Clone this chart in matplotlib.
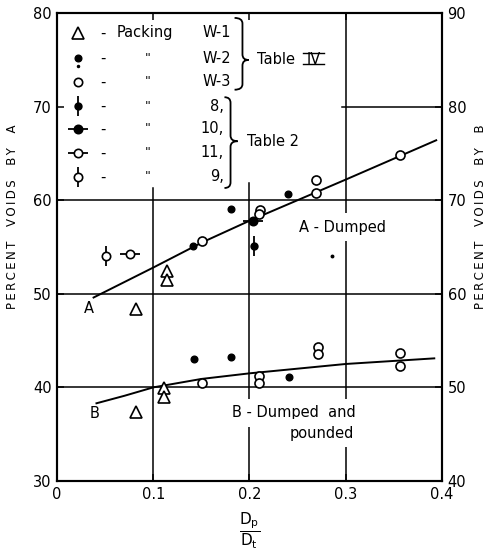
import matplotlib.pyplot as plt
from matplotlib.path import Path
from matplotlib.patches import PathPatch

plt.rcParams['font.family'] = ['DejaVu Sans']
plt.rcParams['mathtext.fontset'] = 'dejavusans'

# packing W-1 (Table IV), open triangles
w1_x = [0.082, 0.114, 0.114, 0.082, 0.111, 0.111]
w1_y = [48.4, 52.4, 51.5, 37.4, 39.9, 39.0]

# packing W-2, solid dots
w2_x = [0.141, 0.181, 0.240, 0.142, 0.181, 0.241]
w2_y = [55.1, 59.1, 60.7, 43.0, 43.2, 41.1]
stray_x = [0.286]
stray_y = [54.0]

# packing W-3, open circles
w3_x = [0.151, 0.211, 0.210, 0.269, 0.269, 0.356,
        0.151, 0.210, 0.210, 0.271, 0.271, 0.356, 0.356]
w3_y = [55.6, 59.0, 58.5, 62.2, 60.8, 64.8,
        40.5, 41.2, 40.5, 44.3, 43.6, 43.7, 42.3]

# packings 8, 10, 11, 9 (Table 2)
t2_names = ['8,', '10,', '11,', '9,']
t2_x = [0.205, 0.204, 0.0756, 0.0505]
t2_y = [55.1, 57.8, 54.2, 54.0]
t2_fill = ['black', 'black', 'white', 'white']
t2_bar = ['|', '_', '_', '|']
t2_size = [4.8, 6.0, 6.0, 6.0]

# faired curves
curve_a_x = [0.038, 0.1, 0.151, 0.2, 0.3, 0.394]
curve_a_y = [49.6, 52.8, 55.5, 57.8, 62.2, 66.4]
curve_b_x = [0.041, 0.07, 0.1, 0.15, 0.2, 0.3, 0.392]
curve_b_y = [38.3, 39.1, 40.0, 40.9, 41.5, 42.5, 43.1]

x_ticks = [0, 0.1, 0.2, 0.3, 0.4]
x_labels = ['0', '0.1', '0.2', '0.3', '0.4']
y_ticks_a = [30, 40, 50, 60, 70, 80]
y_ticks_b = [40, 50, 60, 70, 80, 90]


def spaced(s):
    # lettered-out axis titles
    return '\u2009'.join(s)


fig = plt.figure(figsize=(4.88, 5.54), dpi=100)
ax = fig.add_axes([0.1168, 0.1318, 0.7889, 0.8448])
ax.set_xlim(0, 0.4)
ax.set_ylim(30, 80)

for s in ax.spines.values():
    s.set_linewidth(1.5)

# grid, broken where the key sits
for yv in [40, 50, 60]:
    ax.axhline(yv, color='black', lw=1.1, zorder=1)
ax.axhline(70, xmin=0.74, color='black', lw=1.1, zorder=1)
ax.axvline(0.1, ymax=0.625, color='black', lw=1.1, zorder=1)
ax.axvline(0.2, ymax=0.636, color='black', lw=1.1, zorder=1)
ax.axvline(0.3, color='black', lw=1.1, zorder=1)

ax.set_xticks(x_ticks)
ax.set_xticklabels(x_labels)
ax.set_yticks(y_ticks_a)
ax.tick_params(axis='both', direction='in', length=5, width=1.1,
               labelsize=10.5, pad=4, top=True)

ax2 = ax.twinx()
ax2.set_ylim(40, 90)
ax2.set_yticks(y_ticks_b)
ax2.tick_params(axis='y', direction='in', length=5, width=1.1,
                labelsize=10.5, pad=4)
for s in ax2.spines.values():
    s.set_linewidth(1.5)

ax.set_ylabel(spaced('PERCENT  VOIDS  BY  A'), fontsize=8.5)
ax.yaxis.set_label_coords(-0.098, 0.564)
ax2.set_ylabel(spaced('PERCENT  VOIDS  BY  B'), fontsize=8.5, rotation=90)
ax2.yaxis.set_label_coords(1.083, 0.564)
fig.text(0.511, 0.041, r'$\dfrac{\mathrm{D}_\mathrm{p}}{\mathrm{D}_\mathrm{t}}$',
         fontsize=11, ha='center', va='center')

# curves
ax.plot(curve_a_x, curve_a_y, color='black', lw=1.4, zorder=3)
ax.plot(curve_b_x, curve_b_y, color='black', lw=1.4, zorder=3)

# data points
ax.plot(w1_x, w1_y, ls='none', marker='^', ms=8.5, mfc='white', mec='black', mew=1.2, zorder=4)
ax.plot(w2_x, w2_y, ls='none', marker='o', ms=4.8, mfc='black', mec='black', zorder=4)
ax.plot(stray_x, stray_y, ls='none', marker='o', ms=1.8, mfc='black', mec='black', zorder=4)
ax.plot(w3_x, w3_y, ls='none', marker='o', ms=6.5, mfc='white', mec='black', mew=1.2, zorder=4)
for xv, yv, fc, bar, ms in zip(t2_x, t2_y, t2_fill, t2_bar, t2_size):
    ax.plot([xv], [yv], ls='none', marker=bar, ms=15, mew=1.3, color='black', zorder=4)
    ax.plot([xv], [yv], ls='none', marker='o', ms=ms, mfc=fc, mec='black', mew=1.2, zorder=5)

# curve labels
box = dict(boxstyle='square,pad=0.45', fc='white', ec='none')
ax.text(0.033, 48.4, 'A', fontsize=10.5, ha='center', va='center', zorder=6)
ax.text(0.039, 37.2, 'B', fontsize=10.5, ha='center', va='center', zorder=6)
ax.text(0.251, 57.1, 'A - Dumped', fontsize=10.5, ha='left', va='center', bbox=box, zorder=6)
ax.text(0.182, 37.3, 'B - Dumped  and', fontsize=10.5, ha='left', va='center', bbox=box, zorder=6)
ax.text(0.275, 35.1, 'pounded', fontsize=10.5, ha='center', va='center', bbox=box, zorder=6)

# key
row_y = [77.86, 75.14, 72.63, 70.06, 67.61, 65.04, 62.48]
mk_x = 0.0218
ax.plot([mk_x], [row_y[0]], marker='^', ms=8.5, mfc='white', mec='black', mew=1.2)
ax.plot([mk_x], [row_y[1]], marker='o', ms=4.8, color='black')
ax.plot([mk_x], [row_y[1] - 0.8], marker='o', ms=1.5, color='black')
ax.plot([mk_x], [row_y[2]], marker='o', ms=6.0, mfc='white', mec='black', mew=1.2)
for i, (fc, bar, ms) in enumerate(zip(t2_fill, t2_bar, t2_size)):
    yv = row_y[3 + i]
    ax.plot([mk_x], [yv], marker=bar, ms=15, mew=1.3, color='black')
    ax.plot([mk_x], [yv], marker='o', ms=ms, mfc=fc, mec='black', mew=1.2)

for i, yv in enumerate(row_y):
    ax.text(0.0477, yv, '-', fontsize=10.5, ha='center', va='center')
    if i == 0:
        ax.text(0.0622, yv, 'Packing', fontsize=10.5, ha='left', va='center')
    else:
        ax.text(0.0943, yv, '"', fontsize=9, ha='center', va='center')
for i, lab in enumerate(['W-1', 'W-2', 'W-3']):
    ax.text(0.181, row_y[i], lab, fontsize=10.5, ha='right', va='center')
for i, lab in enumerate(t2_names):
    ax.text(0.173, row_y[3 + i], lab, fontsize=10.5, ha='right', va='center')


def brace(x0, xm, xt, ytop, ybot, ytip, d):
    verts = [(x0, ytop), (xm, ytop), (xm, ytop - d), (xm, ytip + d),
             (xm, ytip), (xt, ytip), (xm, ytip), (xm, ytip - d),
             (xm, ybot + d), (xm, ybot), (x0, ybot)]
    codes = [Path.MOVETO, Path.CURVE3, Path.CURVE3, Path.LINETO,
             Path.CURVE3, Path.CURVE3, Path.CURVE3, Path.CURVE3,
             Path.LINETO, Path.CURVE3, Path.CURVE3]
    ax.add_patch(PathPatch(Path(verts, codes), fc='none', ec='black', lw=1.3))


brace(0.1845, 0.1927, 0.199, 79.47, 71.8, 74.98, 0.6)
brace(0.174, 0.1803, 0.1876, 71.0, 61.3, 66.3, 0.6)

ax.text(0.2073, 74.98, 'Table', fontsize=10.5, ha='left', va='center')
iv = ax.text(0.2591, 74.98, 'IV', fontsize=10.5, ha='left', va='center')
ax.text(0.197, 66.3, 'Table 2', fontsize=10.5, ha='left', va='center')

# roman numeral bars over and under "IV"
fig.canvas.draw()
bb = iv.get_window_extent().transformed(ax.transData.inverted())
ax.plot([bb.x0 - 0.003, bb.x1 + 0.003], [bb.y1 - 0.1, bb.y1 - 0.1], color='black', lw=1.0)
ax.plot([bb.x0 - 0.003, bb.x1 + 0.003], [bb.y0 + 0.35, bb.y0 + 0.35], color='black', lw=1.0)

fig.savefig('out.png', dpi=100)
plt.close(fig)
